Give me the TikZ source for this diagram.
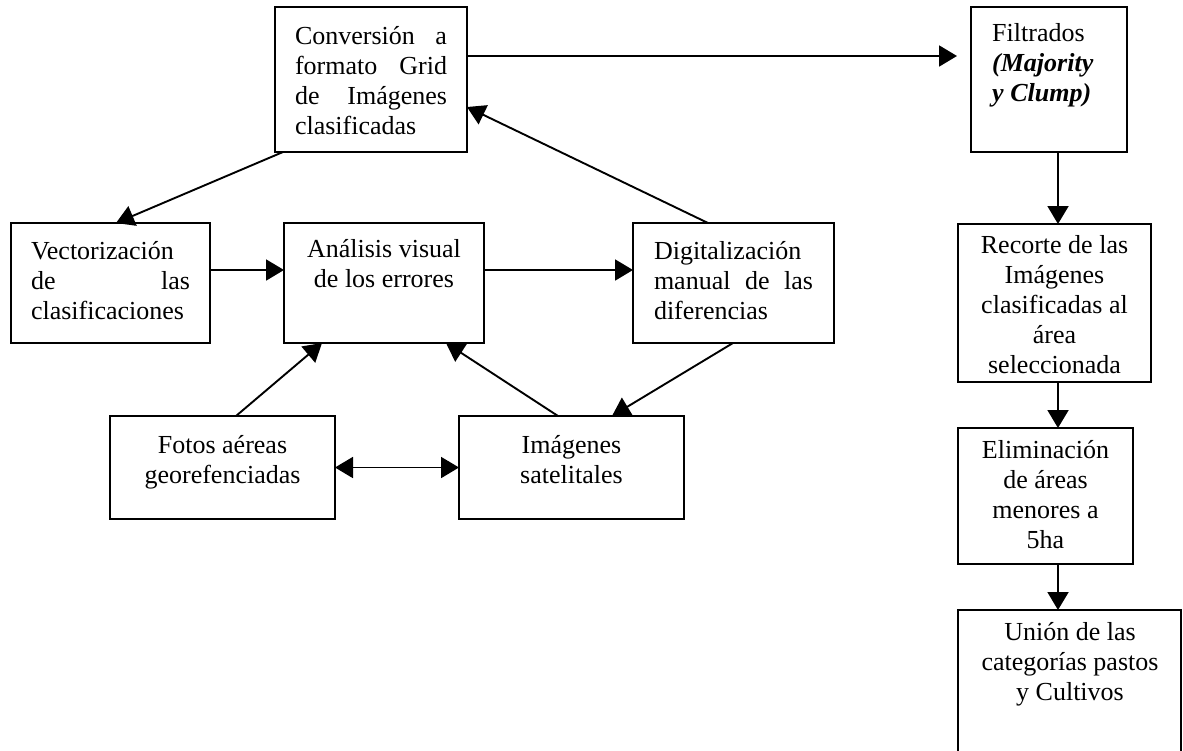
\documentclass[tikz,border=0pt]{standalone}
\usepackage{fontspec}
\setmainfont{Liberation Serif}
\usetikzlibrary{arrows.meta,calc}
\setlength\parindent{0pt}
\begin{document}
\begin{tikzpicture}[x=1pt,y=-1pt,
  box/.style={draw,line width=2pt,inner sep=0pt,outer sep=0pt},
  txt/.style={inner sep=0pt,font=\fontsize{26}{30}\selectfont,
    execute at begin node=\strut,execute at end node=\strut},
  jtxt/.style={txt,text width=159pt,align=left},
  arr/.style={line width=1.9pt,-{Triangle[length=18pt,width=21pt]}},
  darr/.style={line width=1.9pt,{Triangle[length=18pt,width=21pt]}-{Triangle[length=18pt,width=21pt]}}]
\useasboundingbox (0,0) rectangle (1183,750);
\clip (0,0) rectangle (1183,750);

% boxes
\node[box,minimum width=192pt,minimum height=145pt] (conv)  at (371,79.5) {};
\node[box,minimum width=156pt,minimum height=145pt] (filt)  at (1049,79.5) {};
\node[box,minimum width=199pt,minimum height=120pt] (vect)  at (110.5,283) {};
\node[box,minimum width=200pt,minimum height=120pt] (ana)   at (384,283) {};
\node[box,minimum width=201pt,minimum height=120pt] (digi)  at (733.5,283) {};
\node[box,minimum width=225pt,minimum height=103pt] (fotos) at (222.5,467.5) {};
\node[box,minimum width=225pt,minimum height=103pt] (imag)  at (571.5,467.5) {};
\node[box,minimum width=193pt,minimum height=158pt] (rec)   at (1054.5,303) {};
\node[box,minimum width=175pt,minimum height=136pt] (elim)  at (1045.5,496) {};
\node[box,minimum width=223pt,minimum height=160pt] (union) at (1069.5,690) {};

% texts
\node[txt,text width=152pt,align=left] (convT) at (371,83)
  {Conversión\hfill a\\formato\hfill Grid\\de\hfill Imágenes\\clasificadas};
\node[txt,align=left,anchor=west] (filtT) at (992,67)
  {Filtrados\\\textbf{\textit{(Majority}}\\\textbf{\textit{y Clump)}}};
\node[jtxt] (vectT) at (110.5,283) {Vectorización\\de\hfill las\\clasificaciones};
\node[txt,align=center] (anaT) at (384,267.5) {Análisis visual\\de los errores};
\node[jtxt] (digiT) at (733.5,283) {Digitalización\\manual\hfill de\hfill las\\diferencias};
\node[txt,align=center] (fotosT) at (222.5,464) {Fotos aéreas\\georefenciadas};
\node[txt,align=center] (imagT) at (571.5,464) {Imágenes\\satelitales};
\node[txt,align=center] (recT) at (1054.5,309)
  {Recorte de las\\Imágenes\\clasificadas al\\área\\seleccionada};
\node[txt,align=center] (elimT) at (1045.5,499)
  {Eliminación\\de áreas\\menores a\\5ha};
\node[txt,align=center] (unionT) at (1070,666)
  {Unión de las\\categorías pastos\\y Cultivos};

% connectors
\draw[arr,shorten >=14pt] ($(conv.east)+(0,-23.5)$) -- ($(filt.west)+(0,-23.5)$);
\draw[arr] ($(conv.south west)+(8,0)$) -- ($(vect.north west)+(105,0)$);
\draw[arr] ($(digi.north west)+(75,0)$) -- ($(conv.east)+(0,27.5)$);
\draw[arr] ($(vect.east)+(0,-13)$) -- ($(ana.west)+(0,-13)$);
\draw[arr] ($(ana.east)+(0,-13)$) -- ($(digi.west)+(0,-13)$);
\draw[arr] ($(fotos.north west)+(126,0)$) -- ($(ana.south west)+(38,0)$);
\draw[arr] ($(imag.north west)+(99,0)$) -- ($(ana.south west)+(162,0)$);
\draw[arr] ($(digi.south west)+(100,0)$) -- ($(imag.north west)+(153,0)$);
\draw[darr] (fotos.east) -- (imag.west);
\draw[arr] ($(filt.south)+(9,0)$) -- ($(rec.north)+(3.5,0)$);
\draw[arr] ($(rec.south)+(3.5,0)$) -- ($(elim.north)+(12.5,0)$);
\draw[arr] ($(elim.south)+(12.5,0)$) -- ($(union.north)+(-11.5,0)$);
\end{tikzpicture}
\end{document}
